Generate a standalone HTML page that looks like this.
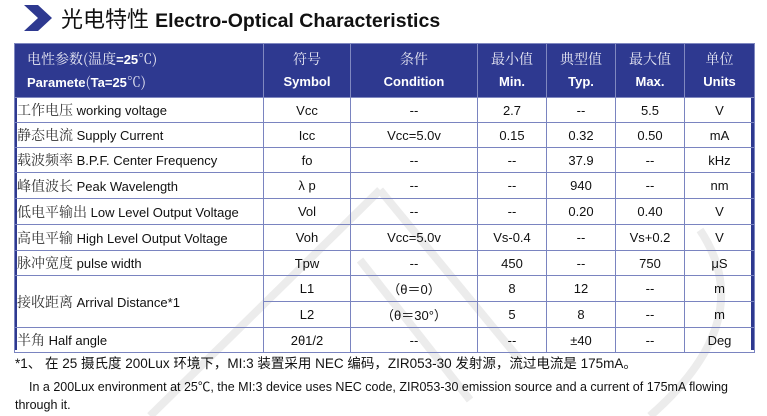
<!DOCTYPE html>
<html><head><meta charset="utf-8"><style>
body{margin:0;width:767px;height:416px;background:#fff;position:relative;overflow:hidden;font-family:"Liberation Sans","Noto Sans CJK SC",sans-serif;color:#111}
.a{position:absolute;white-space:nowrap}
table{position:absolute;left:14px;top:43px;border-collapse:collapse;table-layout:fixed;font-size:13px}
td{border:1px solid #7a84c0;text-align:center;padding:0;height:24px;white-space:nowrap;overflow:hidden}
td.l{text-align:left;padding-left:2px}
.cn{font-family:"Liberation Serif","Noto Serif CJK SC",serif;font-size:14px;color:#333}
tr.h td{background:#2e3990;color:#fff;height:53px;border-color:#8088c0;line-height:22px}
tr.h b{font-size:13px}
.hc{font-family:"Noto Serif CJK SC",serif;font-size:14px;color:#e8e8f4}
</style></head><body>
<svg class="a" style="left:0;top:0" width="767" height="416">
<g stroke="#ececec" stroke-width="8" fill="none">
<path d="M150 416 L380 190"/><path d="M360 260 L470 400"/><path d="M380 190 L520 360"/>
<path d="M650 416 Q760 320 700 230"/>
</g>
<polygon points="24,5 38,5 52,18 38,31 24,31 38,18" fill="#2e3990"/>
<rect x="14" y="43" width="3" height="307" fill="#2e3990"/>
<rect x="751" y="43" width="3" height="307" fill="#2e3990"/>
</svg>
<div class="a" style="left:61px;top:2px;font-size:22px;"><span style="font-family:'Noto Sans CJK SC',sans-serif">光电特性</span> <b style="font-size:19.5px">Electro-Optical Characteristics</b></div>
<table>
<colgroup><col style="width:249px"><col style="width:87px"><col style="width:127px"><col style="width:69px"><col style="width:69px"><col style="width:69px"><col style="width:70px"></colgroup>
<tr class="h"><td class="l" style="padding-left:12px"><span class="hc">电性参数(温度</span><b>=25</b><span class="hc">℃)</span><br><b>Paramete</b><span class="hc">(</span><b>Ta=25</b><span class="hc">℃)</span></td>
<td><span class="hc">符号</span><br><b>Symbol</b></td><td><span class="hc">条件</span><br><b>Condition</b></td><td><span class="hc">最小值</span><br><b>Min.</b></td><td><span class="hc">典型值</span><br><b>Typ.</b></td><td><span class="hc">最大值</span><br><b>Max.</b></td><td><span class="hc">单位</span><br><b>Units</b></td></tr>
<tr><td class="l" style="height:22px"><span class="cn">工作电压</span> working voltage</td><td>Vcc</td><td>--</td><td>2.7</td><td>--</td><td>5.5</td><td>V</td></tr>
<tr><td class="l"><span class="cn">静态电流</span> Supply Current</td><td>Icc</td><td>Vcc=5.0v</td><td>0.15</td><td>0.32</td><td>0.50</td><td>mA</td></tr>
<tr><td class="l"><span class="cn">载波频率</span> B.P.F. Center Frequency</td><td>fo</td><td>--</td><td>--</td><td>37.9</td><td>--</td><td>kHz</td></tr>
<tr><td class="l" style="height:25px"><span class="cn">峰值波长</span> Peak Wavelength</td><td>λ p</td><td>--</td><td>--</td><td>940</td><td>--</td><td>nm</td></tr>
<tr><td class="l" style="height:25px"><span class="cn">低电平输出</span> Low Level Output Voltage</td><td>Vol</td><td>--</td><td>--</td><td>0.20</td><td>0.40</td><td>V</td></tr>
<tr><td class="l" style="height:25px"><span class="cn">高电平输</span> High Level Output Voltage</td><td>Voh</td><td>Vcc=5.0v</td><td>Vs-0.4</td><td>--</td><td>Vs+0.2</td><td>V</td></tr>
<tr><td class="l" style="height:24px"><span class="cn">脉冲宽度</span> pulse width</td><td>Tpw</td><td>--</td><td>450</td><td>--</td><td>750</td><td>μS</td></tr>
<tr><td class="l" rowspan="2"><span class="cn">接收距离</span> Arrival Distance*1</td><td style="height:25px">L1</td><td>（θ＝0）</td><td>8</td><td>12</td><td>--</td><td>m</td></tr>
<tr><td style="height:25px">L2</td><td>（θ＝30°）</td><td>5</td><td>8</td><td>--</td><td>m</td></tr>
<tr><td class="l" style="height:24px"><span class="cn">半角</span> Half angle</td><td>2θ1/2</td><td>--</td><td>--</td><td>±40</td><td>--</td><td>Deg</td></tr>
</table>
<div class="a" style="left:15px;top:352px;font-size:13.5px">*1、 在 25 摄氏度 200Lux 环境下，MI:3 装置采用 NEC 编码，ZIR053-30 发射源，流过电流是 175mA。</div>
<div class="a" style="left:29px;top:376px;font-size:12.5px">In a 200Lux environment at 25℃, the MI:3 device uses NEC code, ZIR053-30 emission source and a current of 175mA flowing</div>
<div class="a" style="left:15px;top:398px;font-size:12.5px">through it.</div>
</body></html>
